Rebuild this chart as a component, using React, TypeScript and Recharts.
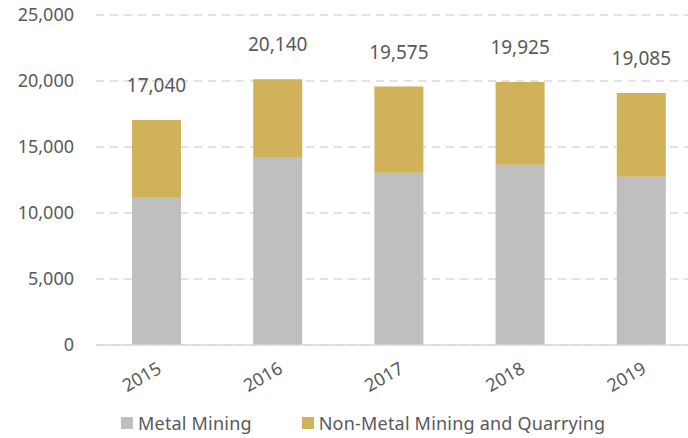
import { Bar, BarChart, CartesianGrid, LabelList, Legend, XAxis, YAxis } from "recharts";

const years = ["2015", "2016", "2017", "2018", "2019"];
const metalMining = [11150, 14250, 13050, 13650, 12750];
const totals = [17040, 20140, 19575, 19925, 19085];
const nonMetal = totals.map((t, i) => t - metalMining[i]);
const yTicks = [0, 5000, 10000, 15000, 20000, 25000];

const data = years.map((year, i) => ({
  year,
  metal: metalMining[i],
  nonMetal: nonMetal[i],
  total: totals[i],
}));

const FONT = "'Noto Sans', sans-serif";
const TEXT = "#595959";
const GRAY = "#bfbfbf";
const GOLD = "#cfb25a";

const fmt = (v: number) => v.toLocaleString("en-US");

function YearTick({ x, y, payload }: any) {
  return (
    <text
      x={x + 6}
      y={y + 19}
      transform={`rotate(-30 ${x + 6} ${y + 19})`}
      textAnchor="end"
      fill={TEXT}
      fontSize={18}
      fontFamily={FONT}
    >
      {payload.value}
    </text>
  );
}

function LegendContent() {
  const items = [
    { label: "Metal Mining", color: GRAY },
    { label: "Non-Metal Mining and Quarrying", color: GOLD },
  ];
  return (
    <div
      style={{
        display: "flex",
        gap: 50,
        paddingLeft: 121,
        paddingTop: 8,
        lineHeight: "24px",
        fontFamily: FONT,
        fontSize: 18,
        color: TEXT,
      }}
    >
      {items.map((it) => (
        <div key={it.label} style={{ display: "flex", alignItems: "center", gap: 5 }}>
          <span style={{ width: 12, height: 12, background: it.color, display: "inline-block" }} />
          <span style={{ letterSpacing: 0.2 }}>{it.label}</span>
        </div>
      ))}
    </div>
  );
}

export default function App() {
  return (
    <div
      style={{
        position: "absolute",
        top: 0,
        left: 0,
        width: 688,
        height: 438,
        overflow: "hidden",
        background: "#fff",
      }}
    >
      <BarChart
        width={710}
        height={438}
        data={data}
        margin={{ top: 15, right: 8, bottom: 0, left: 0 }}
        barSize={49}
      >
        <CartesianGrid vertical={false} stroke="#d9d9d9" strokeDasharray="8 6" strokeWidth={1.5} />
        <XAxis
          dataKey="year"
          axisLine={{ stroke: "#d9d9d9", strokeWidth: 1.5 }}
          tickLine={false}
          tick={<YearTick />}
          height={58}
          interval={0}
        />
        <YAxis
          width={96}
          domain={[0, 25000]}
          ticks={yTicks}
          tickFormatter={fmt}
          axisLine={false}
          tickLine={false}
          tickSize={0}
          tickMargin={22}
          tick={{ fill: TEXT, fontSize: 18, fontFamily: FONT }}
        />
        <Legend verticalAlign="bottom" height={35} content={<LegendContent />} />
        <Bar dataKey="metal" stackId="a" fill={GRAY} isAnimationActive={false} />
        <Bar dataKey="nonMetal" stackId="a" fill={GOLD} isAnimationActive={false}>
          <LabelList
            dataKey="total"
            position="top"
            offset={28}
            formatter={(v: any) => fmt(Number(v))}
            fill={TEXT}
            fontSize={19}
            fontFamily={FONT}
          />
        </Bar>
      </BarChart>
    </div>
  );
}
